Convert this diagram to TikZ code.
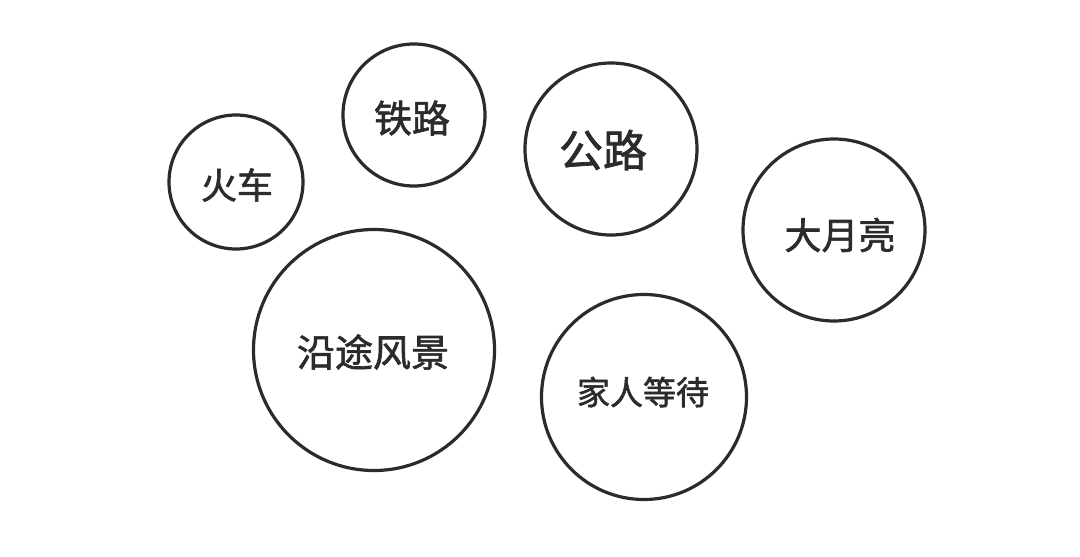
\documentclass[tikz,border=0pt]{standalone}
\usepackage{fontspec}
\newfontfamily\cjk{Noto Sans CJK SC}[FakeBold=1.6, AutoFakeBold=1.6]
\definecolor{inkgrey}{HTML}{2B2B2B}

\tikzset{
  bubble/.style={circle, draw=inkgrey, line width=3.2pt, inner sep=0pt,
    text=inkgrey, minimum size=#1},
  words/.style={font=\cjk\bfseries\fontsize{#1}{#1}\selectfont}
}

\begin{document}
\begin{tikzpicture}[x=1pt,y=-1pt]
\useasboundingbox[fill=white] (0,0) rectangle (1080,557);
% circles of words
\node[bubble=134pt] (huoche) at (236,182) {};
\node[words=36, text=inkgrey] (huochetext) at (237,185) {火车};
\node[bubble=142pt] (tielu) at (414,115) {};
\node[words=38, text=inkgrey] (tielutext) at (412,118) {铁路};
\node[bubble=172pt] (gonglu) at (611,149) {};
\node[words=44, text=inkgrey] (gonglutext) at (603,150) {公路};
\node[bubble=182pt] (yueliang) at (834,230) {};
\node[words=37, text=inkgrey] (yueliangtext) at (840,235) {大月亮};
\node[bubble=241pt] (fengjing) at (374,350) {};
\node[words=38, text=inkgrey] (fengjingtext) at (373,352) {沿途风景};
\node[bubble=205pt] (jiaren) at (644,397) {};
\node[words=33, text=inkgrey] (jiarentext) at (643,392) {家人等待};
\end{tikzpicture}
\end{document}
